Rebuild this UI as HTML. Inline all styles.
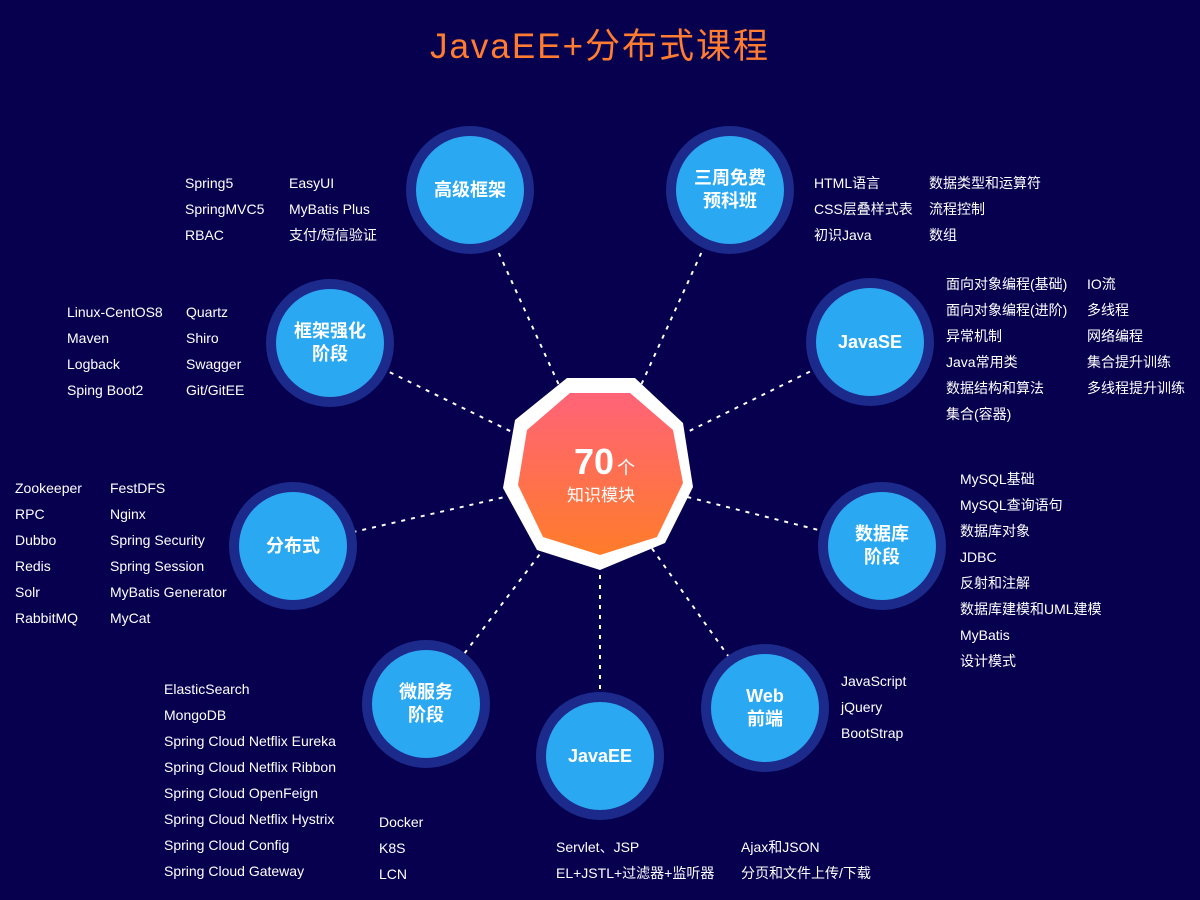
<!DOCTYPE html>
<html><head><meta charset="utf-8"><style>
body{margin:0;width:1200px;height:900px;background:#06004f;position:relative;overflow:hidden;font-family:"Liberation Sans","Noto Sans CJK SC",sans-serif;}
.t{position:absolute;color:#fff;font-size:14px;line-height:18px;white-space:nowrap;}
.c{position:absolute;width:128px;height:128px;border-radius:50%;background:#1c2a8c;}
.c div{position:absolute;left:10px;top:10px;width:108px;height:108px;border-radius:50%;background:#2aa8f2;color:#fff;font-weight:bold;font-size:18px;line-height:23px;display:flex;align-items:center;justify-content:center;text-align:center;}
h1{position:absolute;top:18px;left:0;width:1200px;margin:0;text-align:center;color:#ff7c30;font-size:35px;font-weight:normal;letter-spacing:2px;}
</style></head><body>
<h1>JavaEE+分布式课程</h1>
<svg width="1200" height="900" style="position:absolute;left:0;top:0">
<defs><linearGradient id="g" x1="0" y1="0" x2="0" y2="1"><stop offset="0" stop-color="#ff6378"/><stop offset="1" stop-color="#ff7c2a"/></linearGradient></defs>
<g stroke="#fff" stroke-width="2" stroke-dasharray="4,6">
<line x1="600" y1="475" x2="470" y2="190"/><line x1="600" y1="475" x2="730" y2="190"/>
<line x1="600" y1="475" x2="870" y2="342"/><line x1="600" y1="475" x2="882" y2="546"/>
<line x1="600" y1="475" x2="765" y2="708"/><line x1="600" y1="475" x2="600" y2="756"/>
<line x1="600" y1="475" x2="426" y2="704"/><line x1="600" y1="475" x2="293" y2="546"/>
<line x1="600" y1="475" x2="330" y2="343"/></g>
<polygon points="567,378 635,378 683,423 693,487 665,543 600,570 537,550 503,488 515,420" fill="#fff"/>
<polygon points="570,393 630,393 673,430 683,483 657,537 600,555 543,537 518,485 527,430" fill="url(#g)"/>
<text x="594" y="474" fill="#fff" font-size="36" font-weight="bold" text-anchor="middle" font-family="Liberation Sans">70</text>
<text x="626" y="474" fill="#fff" font-size="18" text-anchor="middle" font-family="Noto Sans CJK SC">个</text>
<text x="601" y="501" fill="#fff" font-size="17" text-anchor="middle" font-family="Noto Sans CJK SC">知识模块</text>
</svg>
<div class="c" style="left:406px;top:126px"><div>高级框架</div></div>
<div class="c" style="left:666px;top:126px"><div>三周免费<br>预科班</div></div>
<div class="c" style="left:806px;top:278px"><div>JavaSE</div></div>
<div class="c" style="left:818px;top:482px"><div>数据库<br>阶段</div></div>
<div class="c" style="left:701px;top:644px"><div>Web<br>前端</div></div>
<div class="c" style="left:536px;top:692px"><div>JavaEE</div></div>
<div class="c" style="left:362px;top:640px"><div>微服务<br>阶段</div></div>
<div class="c" style="left:229px;top:482px"><div>分布式</div></div>
<div class="c" style="left:266px;top:279px"><div>框架强化<br>阶段</div></div>

<div class="t" style="left:185px;top:170px;line-height:26px">Spring5<br>SpringMVC5<br>RBAC</div>
<div class="t" style="left:289px;top:170px;line-height:26px">EasyUI<br>MyBatis Plus<br>支付/短信验证</div>
<div class="t" style="left:814px;top:170px;line-height:26px">HTML语言<br>CSS层叠样式表<br>初识Java</div>
<div class="t" style="left:929px;top:170px;line-height:26px">数据类型和运算符<br>流程控制<br>数组</div>
<div class="t" style="left:946px;top:271px;line-height:26px">面向对象编程(基础)<br>面向对象编程(进阶)<br>异常机制<br>Java常用类<br>数据结构和算法<br>集合(容器)</div>
<div class="t" style="left:1087px;top:271px;line-height:26px">IO流<br>多线程<br>网络编程<br>集合提升训练<br>多线程提升训练</div>
<div class="t" style="left:67px;top:299px;line-height:26px">Linux-CentOS8<br>Maven<br>Logback<br>Sping Boot2</div>
<div class="t" style="left:186px;top:299px;line-height:26px">Quartz<br>Shiro<br>Swagger<br>Git/GitEE</div>
<div class="t" style="left:15px;top:475px;line-height:26px">Zookeeper<br>RPC<br>Dubbo<br>Redis<br>Solr<br>RabbitMQ</div>
<div class="t" style="left:110px;top:475px;line-height:26px">FestDFS<br>Nginx<br>Spring Security<br>Spring Session<br>MyBatis Generator<br>MyCat</div>
<div class="t" style="left:960px;top:466px;line-height:26px">MySQL基础<br>MySQL查询语句<br>数据库对象<br>JDBC<br>反射和注解<br>数据库建模和UML建模<br>MyBatis<br>设计模式</div>
<div class="t" style="left:841px;top:668px;line-height:26px">JavaScript<br>jQuery<br>BootStrap</div>
<div class="t" style="left:164px;top:676px;line-height:26px">ElasticSearch<br>MongoDB<br>Spring Cloud Netflix Eureka<br>Spring Cloud Netflix Ribbon<br>Spring Cloud OpenFeign<br>Spring Cloud Netflix Hystrix<br>Spring Cloud Config<br>Spring Cloud Gateway</div>
<div class="t" style="left:379px;top:809px;line-height:26px">Docker<br>K8S<br>LCN</div>
<div class="t" style="left:556px;top:834px;line-height:26px">Servlet、JSP<br>EL+JSTL+过滤器+监听器</div>
<div class="t" style="left:741px;top:834px;line-height:26px">Ajax和JSON<br>分页和文件上传/下载</div>
</body></html>
